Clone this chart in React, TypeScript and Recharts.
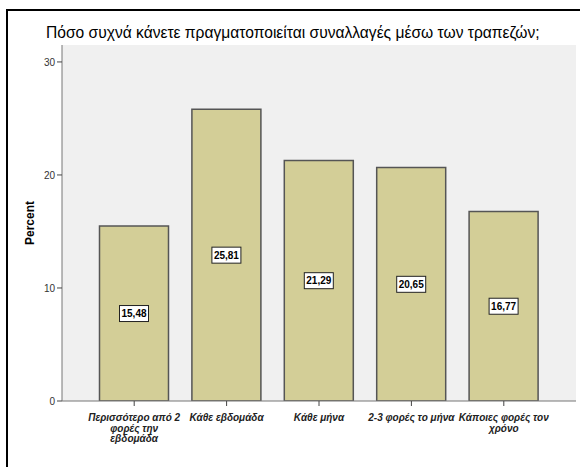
import { Bar, BarChart, LabelList, XAxis, YAxis, CartesianGrid } from "recharts"

const categories = [
  "Περισσότερο από 2\nφορές την\nεβδομάδα",
  "Κάθε εβδομάδα",
  "Κάθε μήνα",
  "2-3 φορές το μήνα",
  "Κάποιες φορές τον\nχρόνο",
]
const percents = [15.48, 25.81, 21.29, 20.65, 16.77]
const yTicks = [0, 10, 20, 30]

const data = categories.map((c, i) => ({ name: c, value: percents[i] }))

const FONT = "'Liberation Sans', Arial, sans-serif"

interface TickProps {
  x?: number
  y?: number
  payload?: { value: string }
}

const CategoryTick = ({ x = 0, y = 0, payload }: TickProps) => {
  const lines = (payload?.value ?? "").split("\n")
  return (
    <g transform={`translate(${x},${y})`}>
      {lines.map((line, i) => (
        <text
          key={i}
          x={0}
          y={13 + i * 10.5}
          textAnchor="middle"
          fontFamily={FONT}
          fontSize={10}
          fontWeight="bold"
          fontStyle="italic"
          fill="#222"
        >
          {line}
        </text>
      ))}
    </g>
  )
}

interface LabelProps {
  x?: number
  y?: number
  width?: number
  height?: number
  value?: number
}

const BoxLabel = ({ x = 0, y = 0, width = 0, height = 0, value }: LabelProps) => {
  const cx = Number(x) + Number(width) / 2
  const cy = Number(y) + Number(height) / 2
  const text = Number(value).toFixed(2).replace(".", ",")
  return (
    <g>
      <rect x={cx - 14.5} y={cy - 8} width={29} height={16} fill="#fff" stroke="#222" strokeWidth={1} />
      <text
        x={cx}
        y={cy + 3.5}
        textAnchor="middle"
        fontFamily={FONT}
        fontSize={10}
        fontWeight="bold"
        fill="#000"
      >
        {text}
      </text>
    </g>
  )
}

export default function App() {
  return (
    <div
      style={{
        position: "absolute",
        left: 0,
        top: 0,
        width: 580,
        height: 467,
        overflow: "hidden",
        background: "#fff",
      }}
    >
      <div
        style={{
          position: "absolute",
          left: 6,
          top: 9,
          width: 600,
          height: 500,
          border: "2px solid #000",
        }}
      />
      <div
        style={{
          position: "absolute",
          left: 46,
          top: 24,
          fontFamily: FONT,
          fontSize: 15.6,
          color: "#000",
          whiteSpace: "nowrap",
        }}
      >
        Πόσο συχνά κάνετε πραγματοποιείται συναλλαγές μέσω των τραπεζών;
      </div>
      <div style={{ position: "absolute", left: 0, top: 0 }}>
        <BarChart
          width={580}
          height={467}
          data={data}
          margin={{ top: 45, right: 4, left: 0, bottom: 0 }}
          barCategoryGap={11.5}
        >
          <CartesianGrid fill="#f0f0f0" horizontal={false} vertical={false} />
          <XAxis
            dataKey="name"
            height={66}
            padding={{ left: 26, right: 26 }}
            tick={<CategoryTick />}
            tickSize={5}
            interval={0}
            axisLine={{ stroke: "#777" }}
            tickLine={{ stroke: "#444" }}
          />
          <XAxis
            xAxisId="top"
            orientation="top"
            dataKey="name"
            height={0}
            tick={false}
            tickLine={false}
            axisLine={{ stroke: "#777" }}
          />
          <YAxis
            domain={[0, 31.5]}
            ticks={yTicks}
            width={62}
            tickSize={5}
            allowDataOverflow
            tick={{ fontFamily: FONT, fontSize: 10, fill: "#333" }}
            axisLine={{ stroke: "#777" }}
            tickLine={{ stroke: "#444" }}
            label={{
              value: "Percent",
              angle: -90,
              position: "insideLeft",
              offset: 30,
              style: { fontFamily: FONT, fontSize: 12, fontWeight: "bold", fill: "#000", textAnchor: "middle" },
            }}
          />
          <YAxis
            yAxisId="right"
            orientation="right"
            width={0}
            tick={false}
            tickLine={false}
            axisLine={{ stroke: "#777" }}
          />
          <Bar dataKey="value" fill="#d3ce97" stroke="#555" strokeWidth={1.5} isAnimationActive={false}>
            <LabelList dataKey="value" content={<BoxLabel />} />
          </Bar>
        </BarChart>
      </div>
    </div>
  )
}
